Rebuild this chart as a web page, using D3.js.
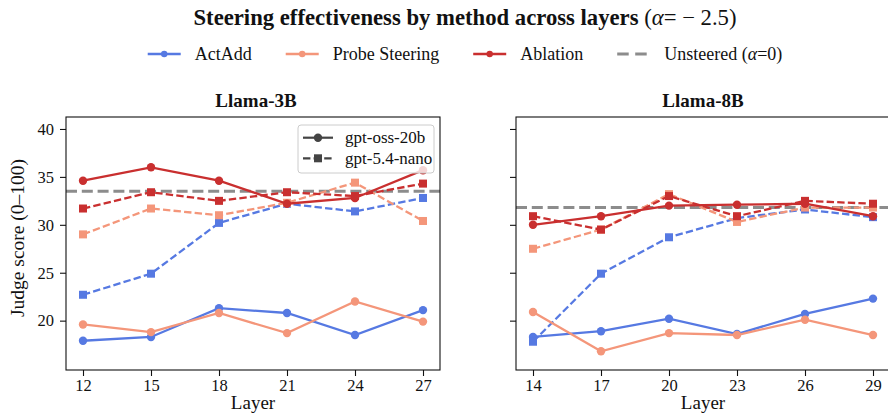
<!DOCTYPE html>
<html><head><meta charset="utf-8">
<script src="https://cdn.jsdelivr.net/npm/d3@7/dist/d3.min.js"></script>
<style>
body{margin:0;background:#fff;}
text{font-family:"Liberation Serif","DejaVu Serif",serif;fill:#111;}
</style></head>
<body><svg id="c" width="888" height="417"></svg>
<script>
// ---------- data ----------
const methods = ["ActAdd", "Probe Steering", "Ablation"];
const judges = ["gpt-oss-20b", "gpt-5.4-nano"];
const panels = ["Llama-3B", "Llama-8B"];
const layers3B = [12, 15, 18, 21, 24, 27];
const layers8B = [14, 17, 20, 23, 26, 29];
const yTicks = [20, 25, 30, 35, 40];

// Llama-3B, gpt-oss-20b (solid)
const l3_oss_actadd   = [17.9, 18.3, 21.3, 20.8, 18.5, 21.1];
const l3_oss_probe    = [19.6, 18.8, 20.8, 18.7, 22.0, 19.9];
const l3_oss_ablation = [34.6, 36.0, 34.6, 32.2, 32.8, 35.7];
// Llama-3B, gpt-5.4-nano (dashed)
const l3_nano_actadd   = [22.7, 24.9, 30.2, 32.2, 31.4, 32.8];
const l3_nano_probe    = [29.0, 31.7, 31.0, 32.3, 34.4, 30.4];
const l3_nano_ablation = [31.7, 33.4, 32.5, 33.4, 33.0, 34.3];
// Llama-8B, gpt-oss-20b (solid)
const l8_oss_actadd   = [18.3, 18.9, 20.2, 18.6, 20.7, 22.3];
const l8_oss_probe    = [20.9, 16.8, 18.7, 18.5, 20.1, 18.5];
const l8_oss_ablation = [30.0, 30.9, 32.0, 32.1, 32.2, 30.9];
// Llama-8B, gpt-5.4-nano (dashed)
const l8_nano_actadd   = [17.8, 24.9, 28.7, 30.7, 31.6, 30.8];
const l8_nano_probe    = [27.5, 29.5, 33.2, 30.3, 31.8, 31.8];
const l8_nano_ablation = [30.9, 29.5, 33.0, 30.9, 32.5, 32.2];
// Unsteered baseline (alpha = 0)
const unsteered = [33.5, 31.8];

// ---------- styling ----------
const colors = {"ActAdd": "#5679e2", "Probe Steering": "#f4967a", "Ablation": "#c92f2f"};
const gray = "#8c8c8c";
const dashData = "7.4,3.2";
const dashBase = "11,4.8";
const FONT = '"Liberation Serif","DejaVu Serif",serif';

const svg = d3.select("#c");
svg.append("rect").attr("width", 888).attr("height", 417).attr("fill", "#fff");

const panelData = [
  {name: panels[0], layers: layers3B, base: unsteered[0], x0: 66, x1: 440,
   series: {"gpt-oss-20b": [l3_oss_actadd, l3_oss_probe, l3_oss_ablation],
            "gpt-5.4-nano": [l3_nano_actadd, l3_nano_probe, l3_nano_ablation]}},
  {name: panels[1], layers: layers8B, base: unsteered[1], x0: 516, x1: 890,
   series: {"gpt-oss-20b": [l8_oss_actadd, l8_oss_probe, l8_oss_ablation],
            "gpt-5.4-nano": [l8_nano_actadd, l8_nano_probe, l8_nano_ablation]}}
];

const yTop = 117, yBot = 370;
const y = d3.scaleLinear().domain([14.85, 41.25]).range([yBot, yTop]);

panelData.forEach((p, pi) => {
  const lo = p.layers[0], hi = p.layers[p.layers.length - 1];
  const pad = (hi - lo) * 0.05;
  const x = d3.scaleLinear().domain([lo - pad, hi + pad]).range([p.x0, p.x1]);
  const g = svg.append("g");

  // baseline
  g.append("line").attr("x1", p.x0).attr("x2", p.x1)
    .attr("y1", y(p.base)).attr("y2", y(p.base))
    .attr("stroke", gray).attr("stroke-width", 3).attr("stroke-dasharray", dashBase);

  const line = d3.line().x(d => x(d[0])).y(d => y(d[1]));
  methods.forEach((m, mi) => {
    judges.forEach((j, ji) => {
      const vals = p.series[j][mi];
      const pts = p.layers.map((l, i) => [l, vals[i]]);
      g.append("path").attr("d", line(pts)).attr("fill", "none")
        .attr("stroke", colors[m]).attr("stroke-width", 2.3)
        .attr("stroke-dasharray", ji === 1 ? dashData : null);
      if (ji === 0) {
        g.selectAll(null).data(pts).enter().append("circle")
          .attr("cx", d => x(d[0])).attr("cy", d => y(d[1])).attr("r", 4.2)
          .attr("fill", colors[m]);
      } else {
        g.selectAll(null).data(pts).enter().append("rect")
          .attr("x", d => x(d[0]) - 4).attr("y", d => y(d[1]) - 4)
          .attr("width", 8).attr("height", 8).attr("fill", colors[m]);
      }
    });
  });

  // frame
  g.append("rect").attr("x", p.x0).attr("y", yTop).attr("width", p.x1 - p.x0)
    .attr("height", yBot - yTop).attr("fill", "none").attr("stroke", "#111").attr("stroke-width", 1.1);

  // axes
  const xa = d3.axisBottom(x).tickValues(p.layers).tickSize(6).tickPadding(3).tickSizeOuter(0);
  const gx = svg.append("g").attr("transform", `translate(0,${yBot})`).call(xa);
  gx.attr("font-family", FONT);
  gx.select(".domain").remove();
  gx.selectAll("text").style("font-size", "16.5px").attr("fill", "#111").style("font-family", FONT);
  gx.selectAll("line").attr("stroke", "#111").attr("stroke-width", 1.1);

  const ya = d3.axisLeft(y).tickValues(yTicks).tickSize(6).tickPadding(6).tickSizeOuter(0);
  if (pi === 1) ya.tickFormat("");
  const gy = svg.append("g").attr("transform", `translate(${p.x0},0)`).call(ya);
  gy.attr("font-family", FONT);
  gy.select(".domain").remove();
  gy.selectAll("text").style("font-size", "16.5px").attr("fill", "#111").style("font-family", FONT);
  gy.selectAll("line").attr("stroke", "#111").attr("stroke-width", 1.1);

  // titles
  const cx = (p.x0 + p.x1) / 2 + (pi === 0 ? 3 : 0);
  svg.append("text").attr("x", cx).attr("y", 106.5).attr("text-anchor", "middle")
    .style("font-size", "19px").style("font-weight", "bold").text(p.name);
  svg.append("text").attr("x", (p.x0 + p.x1) / 2).attr("y", 409)
    .attr("text-anchor", "middle").style("font-size", "19px").text("Layer");

  // inner legend (judges) on first panel
  if (pi === 0) {
    const lg = svg.append("g");
    lg.append("rect").attr("x", 298).attr("y", 125).attr("width", 136).attr("height", 48)
      .attr("rx", 3).attr("fill", "#fff").attr("fill-opacity", 0.8)
      .attr("stroke", "#cccccc").attr("stroke-width", 1);
    judges.forEach((j, ji) => {
      const ry = 137.7 + ji * 20.6;
      lg.append("line").attr("x1", 303).attr("x2", 333).attr("y1", ry).attr("y2", ry)
        .attr("stroke", "#444").attr("stroke-width", 2.2)
        .attr("stroke-dasharray", ji === 1 ? "7.4,3.2" : null);
      if (ji === 0) lg.append("circle").attr("cx", 318).attr("cy", ry).attr("r", 4.2).attr("fill", "#444");
      else lg.append("rect").attr("x", 314).attr("y", ry - 4).attr("width", 8).attr("height", 8).attr("fill", "#444");
      lg.append("text").attr("x", 345).attr("y", ry + 5.5).style("font-size", "17px").text(j);
    });
  }
});

// y label
svg.append("text").attr("transform", "translate(24,238) rotate(-90)").attr("text-anchor", "middle")
  .style("font-size", "19.5px").text("Judge score (0–100)");

// main title
const t = svg.append("text").attr("x", 465).attr("y", 25).attr("text-anchor", "middle").style("font-size", "22.7px");
t.append("tspan").style("font-weight", "bold").text("Steering effectiveness by method across layers ");
t.append("tspan").text("(");
t.append("tspan").style("font-style", "italic").text("α");
t.append("tspan").text("= − 2.5)");

// top legend
const legItems = methods.map(m => ({label: m, color: colors[m], type: "method"}))
  .concat([{label: "Unsteered", color: gray, type: "base"}]);
const leg = svg.append("g");
let cursor = 0;
const legY = 54;
legItems.forEach((it, i) => {
  const gi = leg.append("g").attr("transform", `translate(${cursor},0)`);
  if (it.type === "method") {
    gi.append("line").attr("x1", 0).attr("x2", 33).attr("y1", legY).attr("y2", legY)
      .attr("stroke", it.color).attr("stroke-width", 2.6);
    gi.append("circle").attr("cx", 16.5).attr("cy", legY).attr("r", 3.2).attr("fill", it.color);
  } else {
    gi.append("line").attr("x1", 0).attr("x2", 33).attr("y1", legY).attr("y2", legY)
      .attr("stroke", it.color).attr("stroke-width", 3).attr("stroke-dasharray", "11.5,6.5");
  }
  const tx = gi.append("text").attr("x", 47).attr("y", legY + 6).style("font-size", "18px");
  if (it.type === "method") tx.text(it.label);
  else {
    tx.append("tspan").text("Unsteered (");
    tx.append("tspan").style("font-style", "italic").text("α");
    tx.append("tspan").text("=0)");
  }
  cursor += 47 + tx.node().getComputedTextLength() + 34;
});
const bb = leg.node().getBBox();
leg.attr("transform", `translate(${465 - bb.width / 2 - bb.x},0)`);
</script></body></html>
